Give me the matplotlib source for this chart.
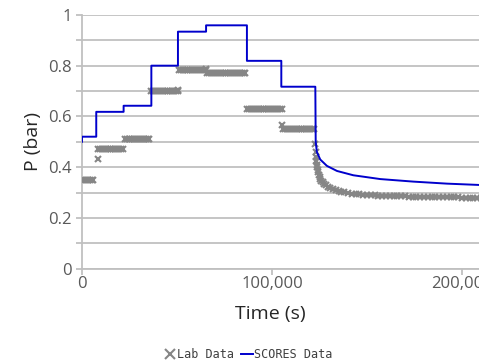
import matplotlib
matplotlib.use("Agg")
import matplotlib.pyplot as plt
import numpy as np
from matplotlib.ticker import FuncFormatter, MultipleLocator

# SCORES model output: corner points of the stepped line, then the decay
scores_t = [0, 0, 7500, 7500, 21900, 21900, 36500, 36500, 50500, 50500,
            65300, 65300, 86800, 86800, 104900, 104900, 122800, 123000,
            123600, 125400, 128900, 134200, 142800, 157000, 174400, 192100, 215000]
scores_p = [0.50, 0.52, 0.52, 0.618, 0.618, 0.642, 0.642, 0.80, 0.80, 0.934,
            0.934, 0.959, 0.959, 0.819, 0.819, 0.717, 0.717, 0.50,
            0.46, 0.43, 0.405, 0.385, 0.368, 0.353, 0.343, 0.335, 0.328]

# lab measurements: pressure plateaus held between two times (logged every 1000 s)
plateau_start = [0, 8500, 22500, 36500, 51000, 66000, 87000, 106000]
plateau_end = [6000, 21500, 36000, 50500, 65000, 86500, 105000, 122000]
plateau_level = [0.35, 0.47, 0.51, 0.70, 0.782, 0.773, 0.63, 0.55]

# odd single readings at step changes
extra_t = [8200, 50500, 65000, 105000]
extra_p = [0.432, 0.705, 0.785, 0.565]

# relaxation after the last step
decay_t = [122800, 123000, 123200, 123400, 123600, 123800, 124000, 124300, 124600,
           125000, 125500, 126000, 126700, 127500, 128500, 129500, 130500, 132000,
           133500, 135000, 136500, 138000, 140000, 142000, 144000, 146000, 148000,
           150000, 152000, 154000, 156000, 158000, 160000, 162000, 164000, 166000,
           168000, 170000, 172000, 174000, 176000, 178000, 180000, 182000, 184000,
           186000, 188000, 190000, 192000, 194000, 196000, 198000, 200000, 202000,
           204000, 206000, 208000, 210000, 212000, 214000]
decay_p = [0.49, 0.46, 0.44, 0.425, 0.41, 0.40, 0.39, 0.38, 0.37,
           0.362, 0.354, 0.347, 0.34, 0.334, 0.328, 0.323, 0.319, 0.314,
           0.31, 0.306, 0.303, 0.301, 0.298, 0.296, 0.294, 0.293, 0.292,
           0.291, 0.290, 0.289, 0.288, 0.288, 0.287, 0.287, 0.286, 0.286,
           0.285, 0.285, 0.284, 0.284, 0.284, 0.283, 0.283, 0.283, 0.282,
           0.282, 0.282, 0.282, 0.281, 0.281, 0.281, 0.281, 0.280, 0.280,
           0.280, 0.280, 0.280, 0.280, 0.280, 0.280]

lab_t, lab_p = [], []
for a, b, lev in zip(plateau_start, plateau_end, plateau_level):
    tt = np.arange(a, b + 1, 1000)
    lab_t.extend(tt)
    lab_p.extend([lev] * len(tt))
lab_t += extra_t + decay_t
lab_p += extra_p + decay_p

plt.rcParams['font.family'] = ['Open Sans', 'DejaVu Sans']

fig = plt.figure(figsize=(4.79, 3.64), dpi=100)
# plot area runs past the right edge of the picture, as in the original crop
ax = fig.add_axes([82 / 479, 0.262, 475 / 479, 0.697])

grid_col = '#c0c0c0'
ax.plot(lab_t, lab_p, linestyle='none', marker='x', color='#868686',
        markersize=4.5, markeredgewidth=1.5, label='Lab Data', zorder=3)
ax.plot(scores_t, scores_p, color='#0000cc', linewidth=1.4,
        label='SCORES Data', zorder=4)

ax.set_xlim(0, 250000)
ax.set_ylim(0, 1)
ax.set_xticks([0, 100000, 200000])
ax.xaxis.set_major_formatter(FuncFormatter(lambda v, p: f"{v:,.0f}"))
ax.yaxis.set_major_locator(MultipleLocator(0.2))
ax.yaxis.set_minor_locator(MultipleLocator(0.1))
ax.yaxis.set_major_formatter(FuncFormatter(lambda v, p: f"{v:g}"))

ax.grid(True, axis='y', which='both', color=grid_col, linewidth=1.3)
ax.set_axisbelow(True)
for s in ['top', 'right']:
    ax.spines[s].set_visible(False)
for s in ['left', 'bottom']:
    ax.spines[s].set_color(grid_col)
    ax.spines[s].set_linewidth(1.3)

ax.tick_params(axis='both', which='both', direction='out', length=4,
               color=grid_col, width=1.3, labelsize=12, labelcolor='#595959')
ax.tick_params(axis='x', pad=1)

ax.set_xlabel('Time (s)', fontsize=14, color='#262626')
ax.set_ylabel('P (bar)', fontsize=14, color='#262626', labelpad=4)
ax.xaxis.set_label_coords((272 - 82) / 475 - 0.003, -0.145)

fig.legend(loc='center', bbox_to_anchor=(248 / 479, 1 - 355 / 364), ncol=2,
           frameon=False, handlelength=1.0, handletextpad=0.1, columnspacing=0.6,
           prop={'family': 'DejaVu Sans Mono', 'size': 8.5}, markerscale=1.5,
           labelcolor='#404040')

fig.savefig('out.png', dpi=100)
